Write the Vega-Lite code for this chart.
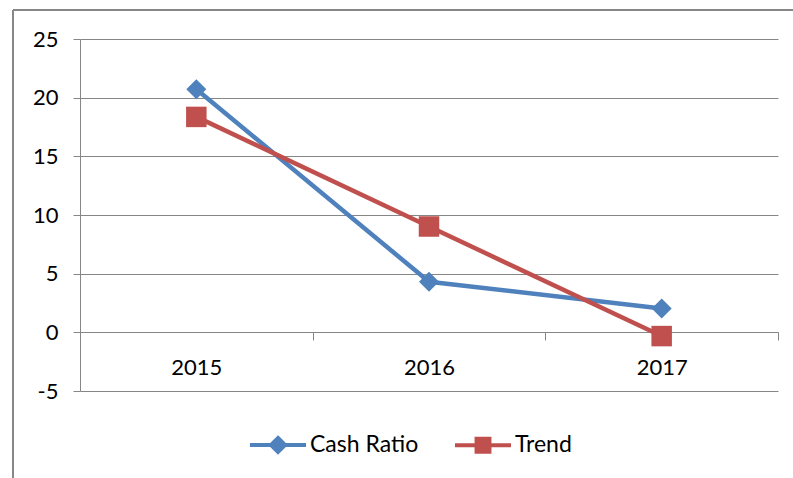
{
  "$schema": "https://vega.github.io/schema/vega-lite/v6.json",
  "width": 698,
  "height": 352,
  "autosize": {"type": "none"},
  "padding": {"left": 80, "top": 39, "right": 15, "bottom": 87},
  "background": "white",
  "config": {
    "view": {"stroke": null},
    "font": "Lato",
    "axis": {
      "labelFont": "Lato",
      "labelFontSize": 22,
      "labelColor": "#000000",
      "domainColor": "#868686",
      "tickColor": "#868686",
      "gridColor": "#868686",
      "domainWidth": 1,
      "tickWidth": 1,
      "gridWidth": 1
    }
  },
  "data": {
    "values": [
      {"Year": 2015, "Series": "Cash Ratio", "Value": 20.72},
      {"Year": 2016, "Series": "Cash Ratio", "Value": 4.31},
      {"Year": 2017, "Series": "Cash Ratio", "Value": 2.04},
      {"Year": 2015, "Series": "Trend", "Value": 18.36},
      {"Year": 2016, "Series": "Trend", "Value": 9.02},
      {"Year": 2017, "Series": "Trend", "Value": -0.32}
    ]
  },
  "layer": [
    {
      "mark": {"type": "rule", "color": "#868686", "strokeWidth": 1, "clip": false},
      "encoding": {
        "x": {"datum": 2014.212, "type": "quantitative", "axis": null, "scale": {"domain": [2014.5, 2017.5], "nice": false, "zero": false}},
        "x2": {"datum": 2017.7},
        "y": {"datum": 27.47, "type": "quantitative", "scale": {"domain": [-5, 25], "nice": false, "zero": false}}
      }
    },
    {
      "mark": {"type": "rule", "color": "#868686", "strokeWidth": 1, "clip": false},
      "encoding": {
        "x": {"datum": 2014.212, "type": "quantitative", "axis": null, "scale": {"domain": [2014.5, 2017.5], "nice": false, "zero": false}},
        "y": {"datum": 27.47, "type": "quantitative", "scale": {"domain": [-5, 25], "nice": false, "zero": false}},
        "y2": {"datum": -13}
      }
    },
    {
      "mark": {"type": "line", "strokeWidth": 4.5, "strokeJoin": "round"},
      "encoding": {
        "x": {
          "field": "Year", "type": "quantitative",
          "scale": {"domain": [2014.5, 2017.5], "nice": false, "zero": false},
          "axis": {"values": [2014.5, 2015.5, 2016.5, 2017.5], "labels": false, "grid": false, "tickSize": 8, "title": null, "orient": "bottom", "offset": -59, "domain": true}
        },
        "y": {
          "field": "Value", "type": "quantitative",
          "scale": {"domain": [-5, 25], "nice": false, "zero": false},
          "axis": {"values": [-5, 0, 5, 10, 15, 20, 25], "labelExpr": "'' + datum.value", "title": null, "grid": true, "tickSize": 7, "labelPadding": 15, "domain": true}
        },
        "color": {
          "field": "Series", "type": "nominal",
          "scale": {"domain": ["Cash Ratio", "Trend"], "range": ["#4F81BD", "#C0504D"]},
          "legend": {
            "title": null,
            "orient": "none",
            "legendX": 168,
            "legendY": 376,
            "direction": "horizontal",
            "symbolSize": 3136,
            "symbolStrokeWidth": 4,
            "labelFont": "Lato",
            "labelFontSize": 23,
            "labelColor": "#000000",
            "labelOffset": 2,
            "columnPadding": 28,
            "padding": 0,
            "encode": {
              "symbols": {
                "update": {
                  "shape": [
                    {"test": "datum.value === 'Trend'", "value": "M-1,0L1,0M-0.23,-0.23L0.23,-0.23L0.23,0.23L-0.23,0.23Z"},
                    {"value": "M-1,0L1,0M0,-0.25L0.25,0L0,0.25L-0.25,0Z"}
                  ],
                  "fill": [
                    {"test": "datum.value === 'Trend'", "value": "#C0504D"},
                    {"value": "#4F81BD"}
                  ],
                  "stroke": [
                    {"test": "datum.value === 'Trend'", "value": "#C0504D"},
                    {"value": "#4F81BD"}
                  ],
                  "strokeWidth": {"value": 4},
                  "opacity": {"value": 1},
                  "fillOpacity": {"value": 1}
                }
              }
            }
          }
        }
      }
    },
    {
      "transform": [{"filter": "datum.Series === 'Cash Ratio'"}],
      "mark": {"type": "point", "shape": "diamond", "filled": true, "size": 400, "color": "#4F81BD", "opacity": 1},
      "encoding": {
        "x": {
          "field": "Year", "type": "quantitative",
          "scale": {"domain": [2014.5, 2017.5], "nice": false, "zero": false},
          "axis": {"values": [2015, 2016, 2017], "format": "d", "ticks": false, "tickSize": 0, "domain": false, "grid": false, "labelPadding": 25, "title": null, "orient": "bottom", "offset": -59}
        },
        "y": {"field": "Value", "type": "quantitative", "scale": {"domain": [-5, 25], "nice": false, "zero": false}}
      }
    },
    {
      "transform": [{"filter": "datum.Series === 'Trend'"}],
      "mark": {"type": "point", "shape": "square", "filled": true, "size": 420, "color": "#C0504D", "opacity": 1},
      "encoding": {
        "x": {"field": "Year", "type": "quantitative", "axis": null, "scale": {"domain": [2014.5, 2017.5], "nice": false, "zero": false}},
        "y": {"field": "Value", "type": "quantitative", "scale": {"domain": [-5, 25], "nice": false, "zero": false}}
      }
    }
  ],
  "resolve": {"axis": {"x": "independent"}}
}
